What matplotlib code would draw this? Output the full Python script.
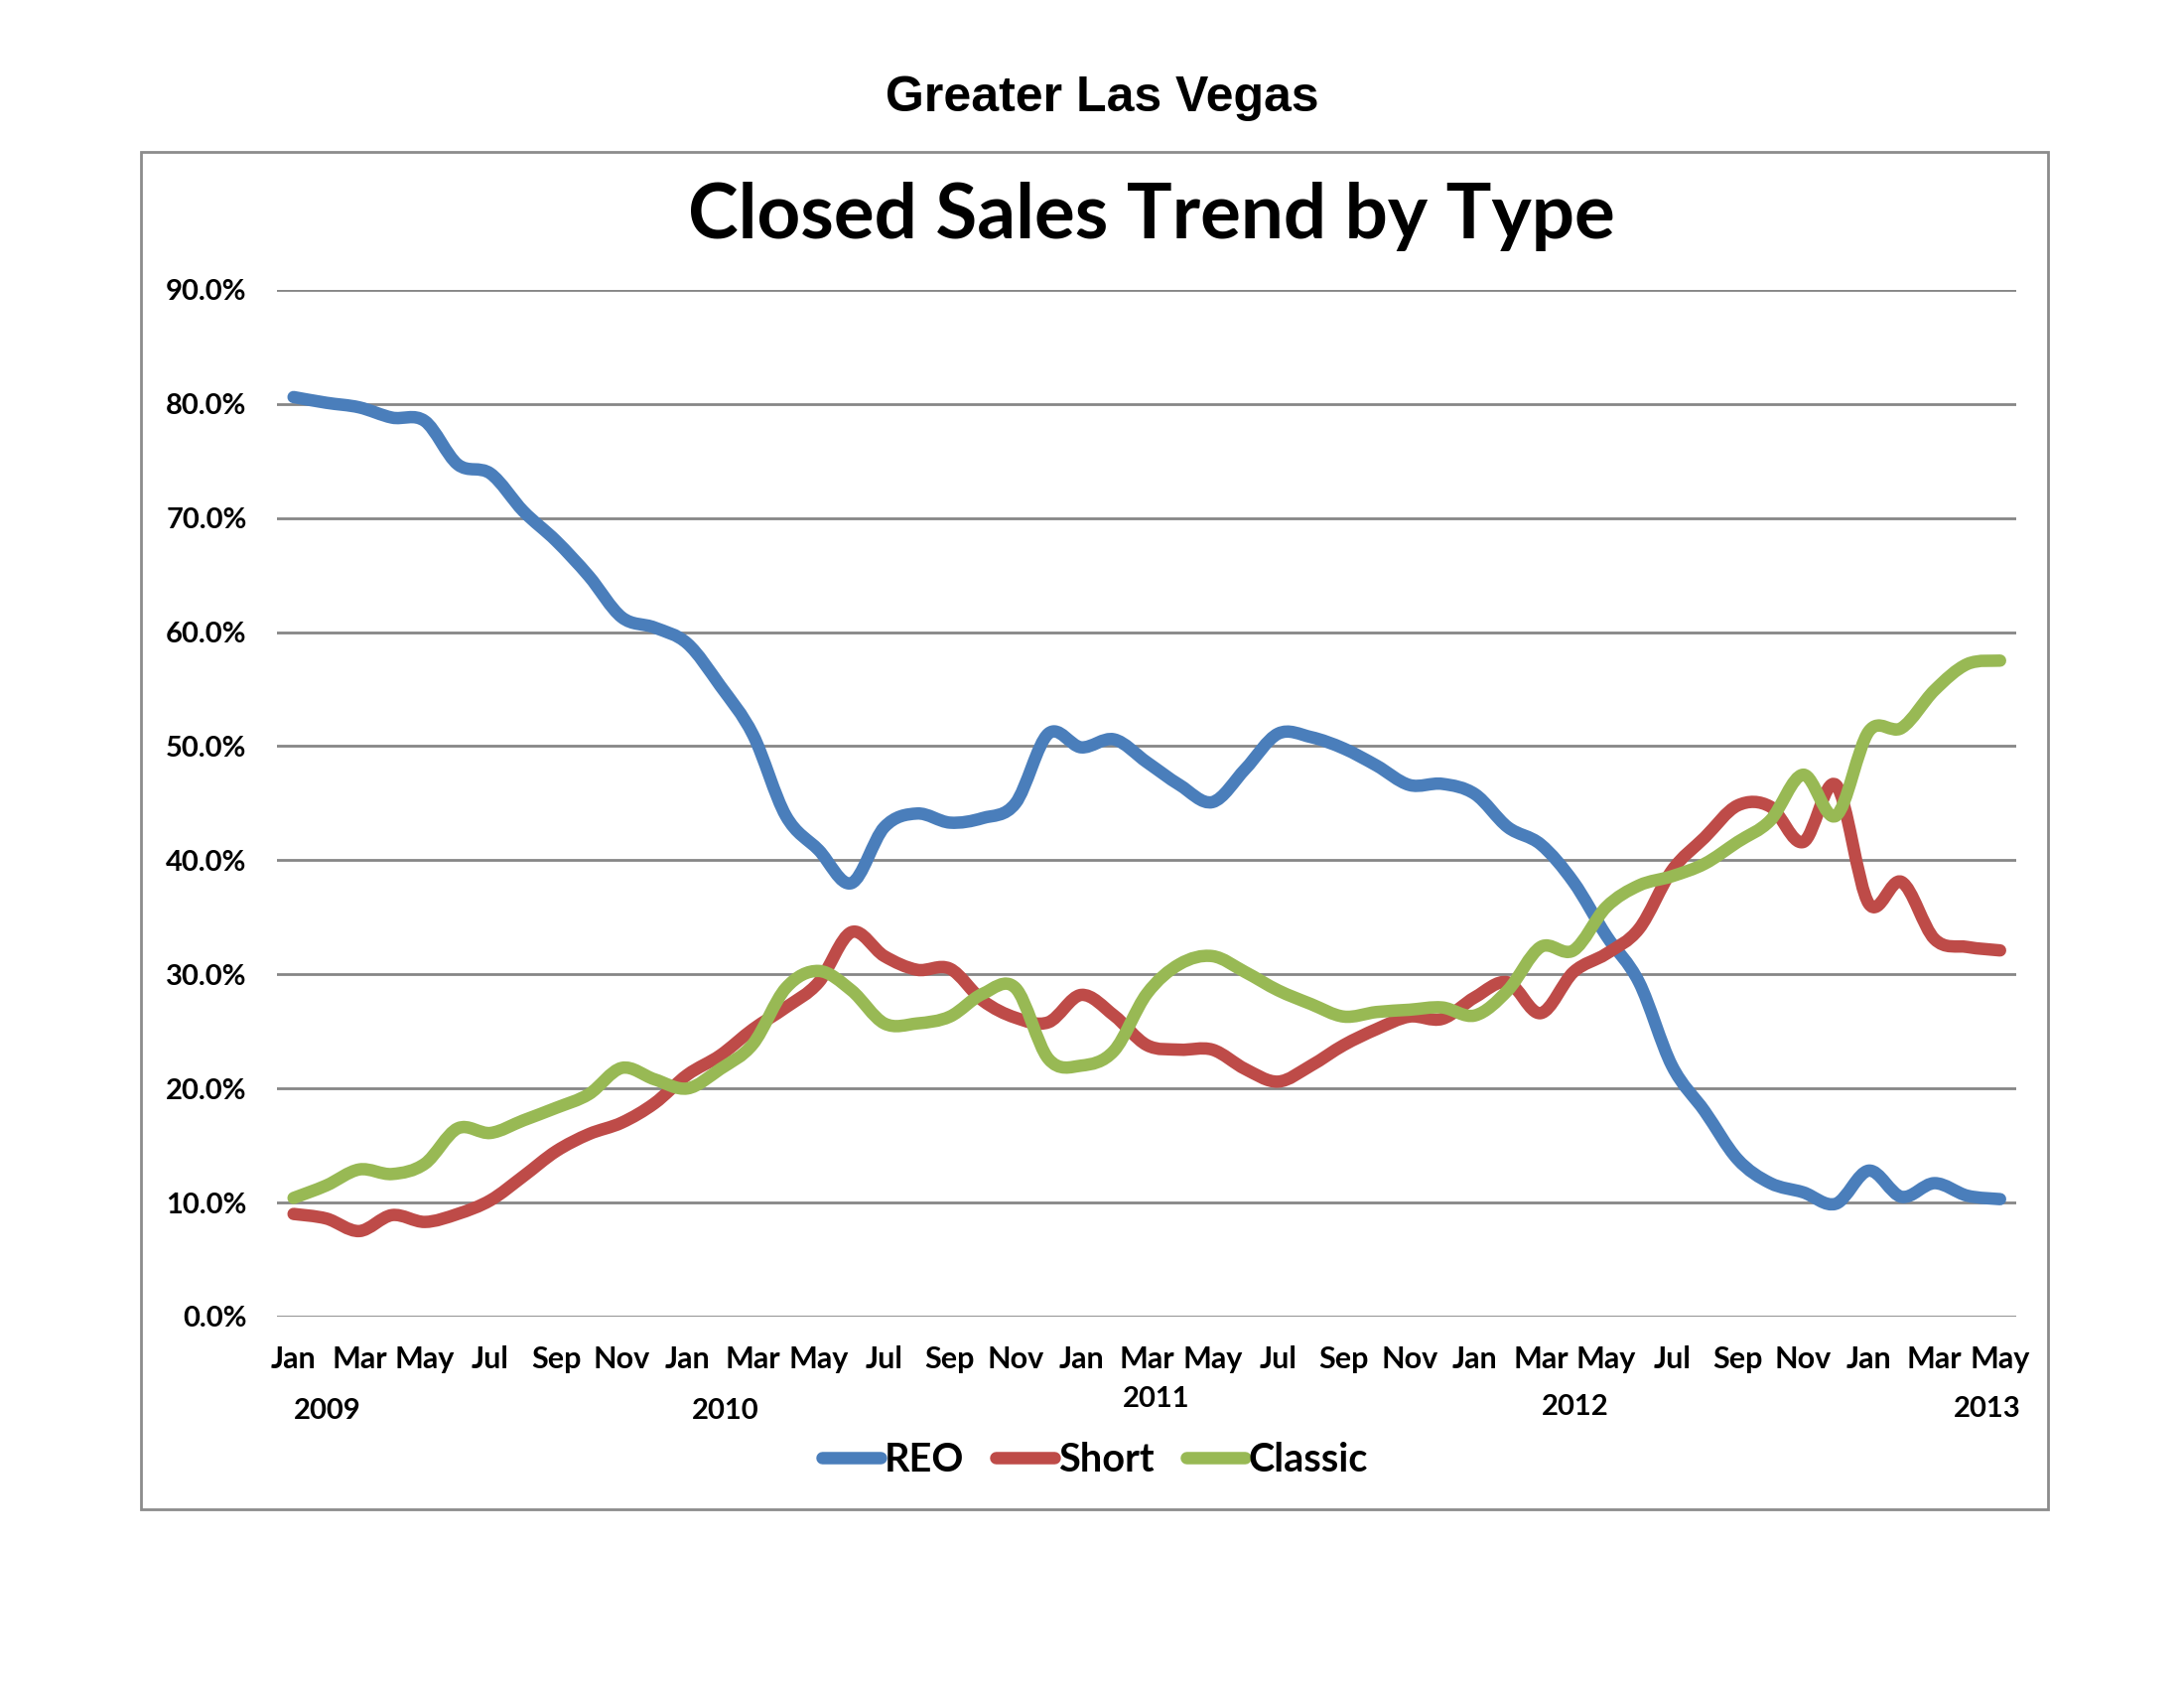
import matplotlib
matplotlib.use("Agg")
import matplotlib.pyplot as plt
import numpy as np
from matplotlib.path import Path
from matplotlib.patches import PathPatch, Rectangle
from matplotlib.lines import Line2D
import matplotlib.transforms as mtransforms

# ---------------- data ----------------
month_names = ["Jan", "Feb", "Mar", "Apr", "May", "Jun",
               "Jul", "Aug", "Sep", "Oct", "Nov", "Dec"]
months = [month_names[i % 12] for i in range(53)]  # Jan 2009 .. May 2013
years = ["2009", "2010", "2011", "2012", "2013"]

reo = [80.6, 80.1, 79.7, 78.8, 78.5, 74.7, 73.9, 70.6, 68.0, 64.9,
       61.3, 60.4, 59.0, 55.3, 51.0, 43.9, 40.9, 38.0, 42.9, 44.1,
       43.3, 43.7, 45.0, 51.1, 49.9, 50.6, 48.6, 46.6, 45.1, 48.0,
       51.1, 50.8, 49.8, 48.3, 46.6, 46.7, 45.8, 42.9, 41.4, 38.1,
       33.4, 29.3, 22.0, 18.0, 13.8, 11.7, 10.9, 9.9, 12.8, 10.5,
       11.7, 10.6, 10.3]
short = [9.0, 8.6, 7.5, 8.9, 8.3, 9.0, 10.2, 12.3, 14.5, 16.0,
         17.0, 18.7, 21.2, 22.9, 25.2, 27.1, 29.3, 33.7, 31.6, 30.4,
         30.5, 27.7, 26.2, 25.8, 28.2, 26.4, 23.8, 23.4, 23.4, 21.7,
         20.6, 22.0, 23.8, 25.2, 26.3, 26.1, 28.0, 29.3, 26.6, 30.2,
         31.8, 34.0, 39.1, 42.0, 44.8, 44.7, 41.6, 46.6, 36.2, 38.1,
         33.1, 32.4, 32.1]
classic = [10.4, 11.5, 12.9, 12.5, 13.4, 16.5, 16.1, 17.2, 18.3, 19.5,
           21.8, 20.8, 20.0, 21.7, 23.9, 28.8, 30.3, 28.6, 25.7, 25.7,
           26.3, 28.3, 28.8, 22.6, 22.0, 23.3, 28.3, 30.9, 31.6, 30.2,
           28.6, 27.4, 26.3, 26.7, 26.9, 27.1, 26.4, 28.6, 32.4, 32.1,
           35.9, 37.8, 38.6, 39.7, 41.6, 43.5, 47.5, 43.9, 51.3, 51.6,
           54.9, 57.2, 57.5]
series_names = ["REO", "Short", "Classic"]
y_ticks = [0, 10, 20, 30, 40, 50, 60, 70, 80, 90]

# ---------------- style ----------------
colors = ["#4A7EBB", "#BE4B48", "#98B954"]
grid_color = "#868686"
FONT = ["Lato", "DejaVu Sans"]


def smooth_path(x, y):
    """Excel-like smoothed line as cubic Bezier path through the points."""
    pts = np.column_stack([x, y]).astype(float)
    n = len(pts)
    verts = [pts[0]]
    codes = [Path.MOVETO]
    for i in range(n - 1):
        p0 = pts[i - 1] if i > 0 else pts[i]
        p1 = pts[i]
        p2 = pts[i + 1]
        p3 = pts[i + 2] if i + 2 < n else pts[i + 1]
        c1 = p1 + (p2 - p0) / 6.0
        c2 = p2 - (p3 - p1) / 6.0
        verts += [c1, c2, p2]
        codes += [Path.CURVE4] * 3
    return Path(verts, codes)


fig = plt.figure(figsize=(22, 17), dpi=100)
fig.patch.set_facecolor("white")

# outer chart frame
frame = Rectangle((0.0644, 0.1058), 0.9375 - 0.0644, 0.91 - 0.1058,
                  transform=fig.transFigure, fill=False,
                  edgecolor="#8C8C8C", linewidth=2.0, zorder=0)
fig.patches.append(frame)

fig.text(0.5045, 0.942, "Greater Las Vegas", ha="center", va="center",
         fontsize=36, fontweight="bold", family=["Liberation Sans", "DejaVu Sans"])
fig.text(0.527, 0.872, "Closed Sales Trend by Type", ha="center", va="center",
         fontsize=55, fontweight="bold", family=FONT)

ax = fig.add_axes([0.1269, 0.22, 0.7964, 0.6083])
ax.set_xlim(-0.5, len(months) - 0.5)
ax.set_ylim(0, 90)
for s in ax.spines.values():
    s.set_visible(False)

ax.set_yticks(y_ticks)
ax.set_yticklabels([f"{v:.1f}%" for v in y_ticks])
ax.yaxis.grid(True, color=grid_color, linewidth=2.0)
ax.set_axisbelow(True)
ax.tick_params(axis="y", length=0, pad=22, labelsize=21)

xt = list(range(0, len(months), 2))
ax.set_xticks(xt)
ax.set_xticklabels([months[i] for i in xt])
ax.tick_params(axis="x", length=0, pad=21, labelsize=22)
for lab in ax.get_xticklabels() + ax.get_yticklabels():
    lab.set_fontweight("bold")
    lab.set_family(FONT)

x = np.arange(len(months))
for vals, col in zip([reo, short, classic], colors):
    p = smooth_path(x, vals)
    patch = PathPatch(p, fill=False, edgecolor=col, linewidth=9,
                      capstyle="round", joinstyle="round", zorder=3)
    ax.add_patch(patch)

# year labels (second level of category axis)
year_x = [1.03, 13.15, 26.3, 39.06, 51.6]
year_y = [-0.092, -0.092, -0.080, -0.088, -0.090]
trans = mtransforms.blended_transform_factory(ax.transData, ax.transAxes)
for yr, xx, yy in zip(years, year_x, year_y):
    ax.text(xx, yy, yr, transform=trans, ha="center", va="center",
            fontsize=21, fontweight="bold", family=FONT)

handles = [Line2D([], [], color=c, linewidth=9, solid_capstyle="round")
           for c in colors]
leg = fig.legend(handles, series_names, loc="center", bbox_to_anchor=(0.5013, 0.135),
                 ncol=3, frameon=False, handlelength=1.5, handletextpad=0.1,
                 columnspacing=0.8, prop={"family": FONT, "weight": "bold", "size": 28.5})

fig.savefig("out.png", dpi=100, facecolor="white")
